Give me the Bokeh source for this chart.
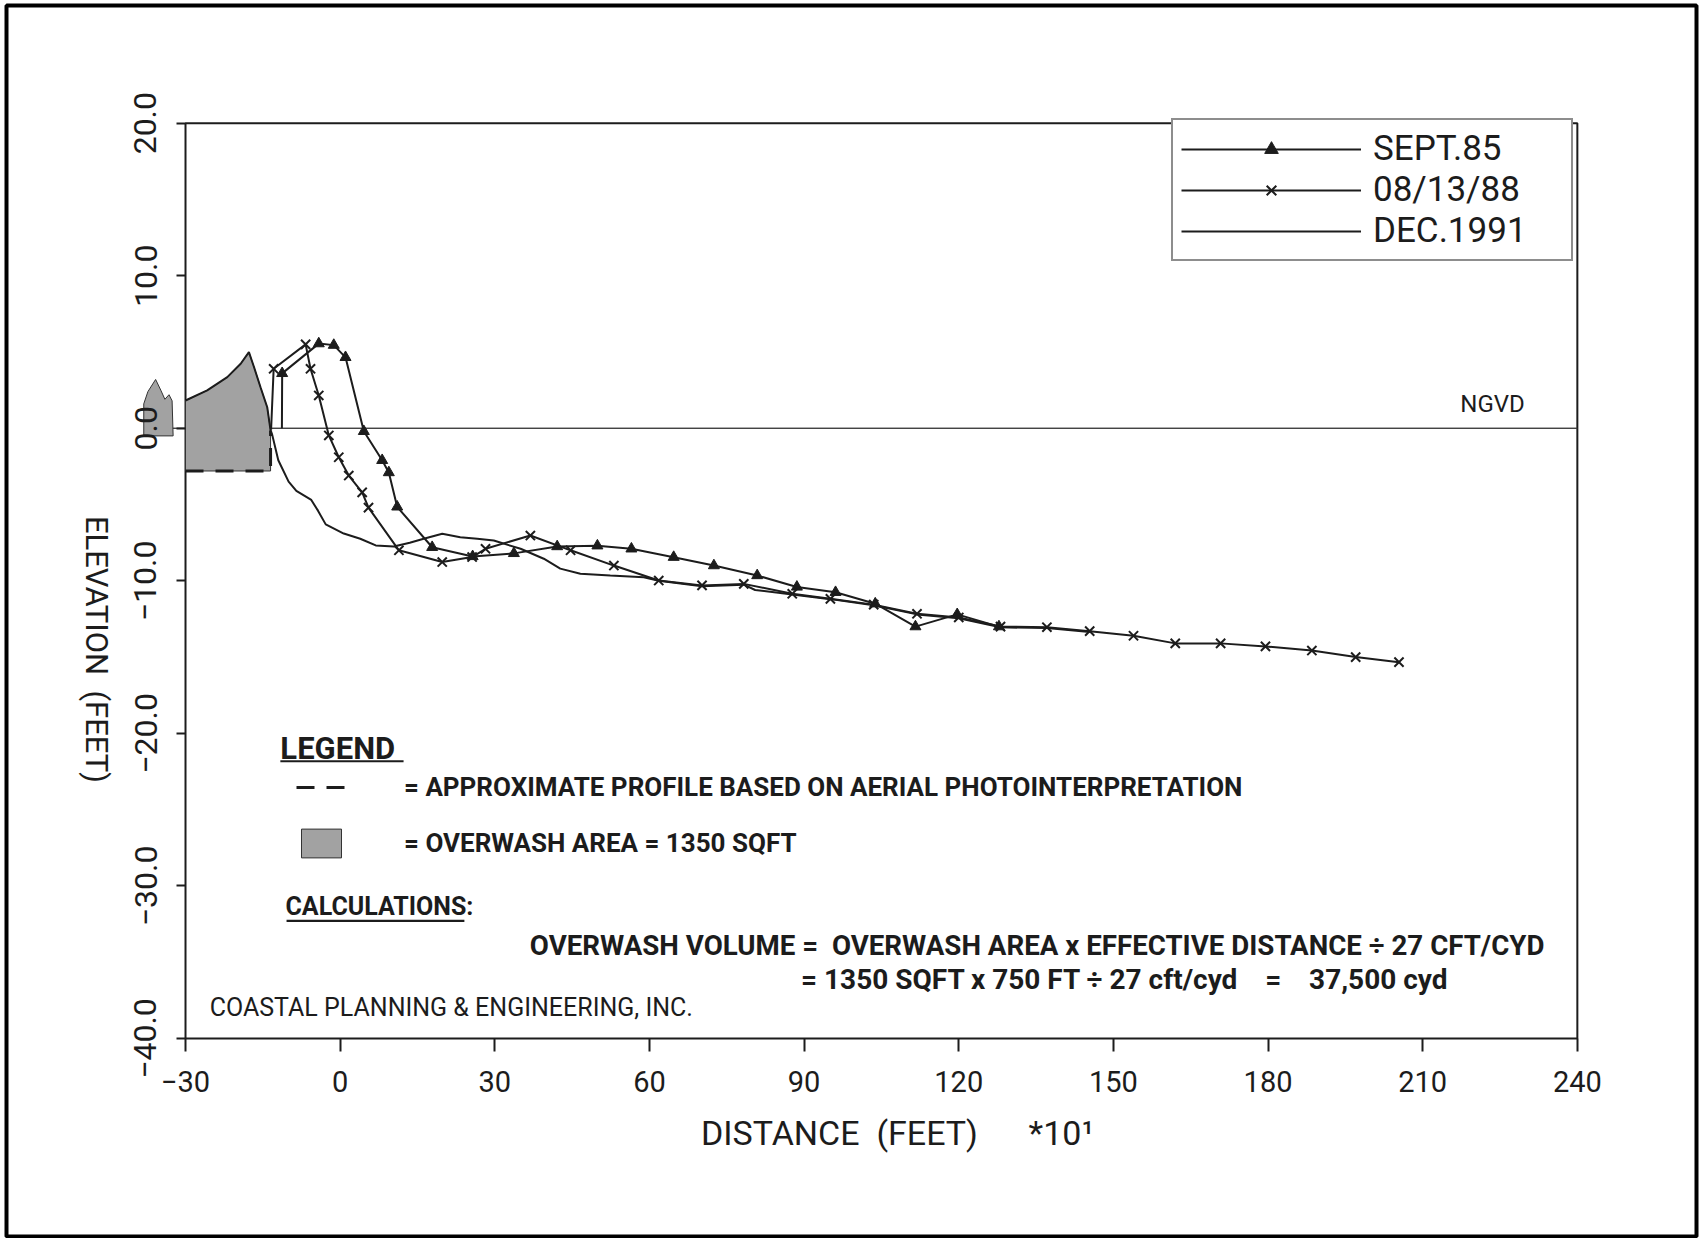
import math
from bokeh.plotting import figure
from bokeh.models import (Label, Legend, LegendItem, FixedTicker,
                          BoxAnnotation, Range1d)
from bokeh.embed import file_html
from bokeh.resources import INLINE

# ---------------- data (distance in feet*10, elevation in feet) ----------------
x_ticks = [-30, 0, 30, 60, 90, 120, 150, 180, 210, 240]
x_tick_labels = ["\u221230", "0", "30", "60", "90", "120", "150", "180", "210", "240"]
y_ticks = [-40, -30, -20, -10, 0, 10, 20]
y_tick_labels = ["\u221240.0", "\u221230.0", "\u221220.0", "\u221210.0", "0.0", "10.0", "20.0"]

sept85_x = [-11.3, -11.25, -4.15, -1.24, 1.04, 4.59, 8.15, 9.44, 11.06, 17.85, 25.7,
            33.7, 42.1, 49.9, 56.5, 64.7, 72.5, 80.9, 88.6, 96.1, 103.8, 111.6, 119.7, 127.8]
sept85_y = [0.0, 3.6, 5.55, 5.45, 4.65, -0.2, -2.1, -2.9, -5.15, -7.8, -8.4,
            -8.2, -7.75, -7.7, -7.9, -8.45, -9.0, -9.65, -10.4, -10.75, -11.5, -13.0, -12.2, -13.0]

aug88_x = [-13.4, -12.9, -6.7, -5.75, -4.15, -2.2, -0.27, 1.67, 4.27, 5.5, 11.4, 19.8, 25.6,
           28.2, 36.9, 44.7, 53.1, 61.8, 70.2, 78.3, 87.7, 95.1, 103.5, 111.9, 120.0, 128.1,
           137.1, 145.4, 153.9, 162.0, 170.8, 179.5, 188.5, 197.0, 205.4]
aug88_y = [-0.1, 3.9, 5.5, 3.9, 2.15, -0.47, -1.9, -3.1, -4.2, -5.2, -8.0, -8.77, -8.44,
           -7.9, -7.03, -8.0, -9.0, -9.98, -10.3, -10.2, -10.85, -11.18, -11.56, -12.16, -12.4, -13.0,
           -13.04, -13.3, -13.6, -14.1, -14.1, -14.3, -14.57, -15.0, -15.33]

dec91_x = [-30.0, -25.8, -21.9, -19.3, -17.7, -16.7, -15.45, -14.15, -13.5, -13.2, -12.0, -10.0,
           -8.5, -5.6, -4.3, -2.8, 0.7, 3.9, 6.9, 10.4, 13.5, 16.2, 19.8, 23.3, 26.6, 29.8, 35.0,
           39.5, 42.7, 46.6, 52.4, 58.9, 61.8, 70.2, 78.3, 80.5, 87.7, 95.1, 103.5, 111.9, 120.0,
           128.1, 137.1, 145.4]
dec91_y = [1.82, 2.48, 3.35, 4.23, 4.99, 4.0, 2.69, 1.38, -0.14, -0.4, -2.1, -3.5,
           -4.1, -4.7, -5.4, -6.3, -6.9, -7.24, -7.68, -7.75, -7.5, -7.24, -6.92, -7.14, -7.24, -7.36, -7.9,
           -8.55, -9.2, -9.54, -9.65, -9.76, -10.0, -10.35, -10.25, -10.6, -10.9, -11.2, -11.6, -12.2, -12.45,
           -13.05, -13.1, -13.35]

# overwash (shaded) area and approximate pre-storm profile
overwash_x = [-30.0, -30.0, -25.8, -21.9, -19.3, -17.7, -16.7, -15.45, -14.15, -13.5, -13.5]
overwash_y = [-2.8, 1.82, 2.48, 3.35, 4.23, 4.99, 4.0, 2.69, 1.38, -0.14, -2.8]
approx_x = [-30.0, -13.5, -13.5]
approx_y = [-2.8, -2.8, -0.14]
blob_x = [-38.1, -38.1, -37.3, -35.8, -34.8, -34.0, -33.2, -32.6, -32.4]
blob_y = [-0.5, 1.6, 2.4, 3.2, 2.5, 1.9, 2.2, 1.8, -0.5]

series_labels = ["SEPT.85", "08/13/88", "DEC.1991"]
ngvd_level = 0.0

# ---------------- figure ----------------
INK = "#1c1c1c"
PLOT_FONT = "Roboto"
W, H = 1700, 1238

p = figure(width=W, height=H,
           x_range=Range1d(-65.89, 263.89), y_range=Range1d(-53.11, 28.04),
           output_backend="svg", toolbar_location=None,
           min_border_left=0, min_border_right=0, min_border_top=0, min_border_bottom=0)
p.title.visible = False
p.xgrid.visible = False
p.ygrid.visible = False
p.outline_line_color = None
p.background_fill_color = "white"
p.border_fill_color = "white"

# axes drawn at the data frame of the drawing
p.xaxis.fixed_location = y_ticks[0]
p.yaxis.fixed_location = x_ticks[0]
p.xaxis.ticker = FixedTicker(ticks=x_ticks)
p.xaxis.major_label_overrides = dict(zip(x_ticks, x_tick_labels))
p.yaxis.ticker = FixedTicker(ticks=y_ticks)
p.yaxis.major_label_overrides = dict(zip(y_ticks, y_tick_labels))
p.yaxis.major_label_orientation = "vertical"
for ax in (p.xaxis, p.yaxis):
    ax.axis_line_color = None
    ax.major_tick_line_color = INK
    ax.major_tick_line_width = 2
    ax.major_tick_in = 0
    ax.minor_tick_line_color = None
    ax.major_label_text_font = PLOT_FONT
    ax.major_label_text_color = INK
p.xaxis.major_label_text_font_size = "29px"
p.yaxis.major_label_text_font_size = "32px"
p.xaxis.major_tick_out = 13
p.yaxis.major_tick_out = 9
p.xaxis.major_label_standoff = 20
p.yaxis.major_label_standoff = 20

# plot frame box and NGVD datum
p.add_layout(BoxAnnotation(left=x_ticks[0], right=x_ticks[-1], bottom=y_ticks[0], top=y_ticks[-1],
                           fill_alpha=0, line_color=INK, line_alpha=1, line_width=2,
                           level="underlay"))
p.add_layout(BoxAnnotation(left=-34.3, right=x_ticks[-1], bottom=ngvd_level, top=ngvd_level,
                           fill_alpha=0, line_color="#3a3a3a", line_alpha=1, line_width=1,
                           level="underlay"))

# shaded overwash areas
r_shade = p.patch(overwash_x, overwash_y, fill_color="#a2a2a2", line_color="#333333", line_width=1)
p.patch(blob_x, blob_y, fill_color="#a2a2a2", line_color="#333333", line_width=1)
r_approx = p.line(approx_x, approx_y, line_color=INK, line_width=3, line_dash="18 12")

# profiles
r91 = p.line(dec91_x, dec91_y, line_color=INK, line_width=2)
r85l = p.line(sept85_x, sept85_y, line_color=INK, line_width=2)
r85m = p.scatter(sept85_x[1:], sept85_y[1:], marker="triangle", size=11,
                 fill_color=INK, line_color=INK)
r88l = p.line(aug88_x, aug88_y, line_color=INK, line_width=2)
r88m = p.scatter(aug88_x[1:], aug88_y[1:], marker="x", size=13, line_color=INK, line_width=2)

# series legend (top right of the drawing frame)
leg = Legend(items=[LegendItem(label=series_labels[0], renderers=[r85l, r85m]),
                    LegendItem(label=series_labels[1], renderers=[r88l, r88m]),
                    LegendItem(label=series_labels[2], renderers=[r91])],
             location=(1171, 977), margin=0, padding=8, spacing=0,
             glyph_width=180, glyph_height=34, label_height=34, label_width=190,
             label_standoff=12,
             label_text_font=PLOT_FONT, label_text_font_size="35px", label_text_color=INK,
             border_line_color=INK, border_line_width=2,
             background_fill_color="white", background_fill_alpha=1.0)
p.add_layout(leg)

# drawing legend (lower left)
leg2 = Legend(items=[LegendItem(label="= APPROXIMATE PROFILE BASED ON AERIAL PHOTOINTERPRETATION",
                                renderers=[r_approx]),
                     LegendItem(label="= OVERWASH AREA = 1350 SQFT", renderers=[r_shade])],
              location=(296, 377), margin=0, padding=0, spacing=20,
              glyph_width=50, glyph_height=36, label_height=36, label_standoff=58,
              label_text_font=PLOT_FONT, label_text_font_style="bold",
              label_text_font_size="26px", label_text_color=INK,
              border_line_color=None, background_fill_alpha=0)
p.add_layout(leg2)

def txt(x, y, s, size, bold=False, align="left", angle=0.0, font=PLOT_FONT):
    p.add_layout(Label(x=x, y=y, text=s, text_font=font, text_font_size=size,
                       text_font_style="bold" if bold else "normal", text_color=INK,
                       text_align=align, text_baseline="middle", angle=angle))

NB = "\u00a0"
txt(-11.6, -21.0, "LEGEND", "31px", bold=True)
p.add_layout(BoxAnnotation(left=-11.6, right=12.3, bottom=-21.9, top=-21.76,
                           fill_color=INK, fill_alpha=1, line_color=None))
txt(-10.6, -31.35, "CALCULATIONS:", "25px", bold=True)
p.add_layout(BoxAnnotation(left=-10.4, right=24.1, bottom=-32.36, top=-32.22,
                           fill_color=INK, fill_alpha=1, line_color=None))
txt(36.8, -33.9, "OVERWASH VOLUME =" + NB + NB + "OVERWASH AREA x EFFECTIVE DISTANCE \u00f7 27 CFT/CYD",
    "27.7px", bold=True)
txt(89.4, -36.1, "= 1350 SQFT x 750 FT \u00f7 27 cft/cyd" + NB * 4 + "=" + NB * 4 + "37,500 cyd",
    "28px", bold=True)
txt(-25.3, -38.0, "COASTAL PLANNING & ENGINEERING, INC.", "25px")
txt(217.3, 1.6, "NGVD", "24px")
txt(-47.3, -14.5, "ELEVATION" + NB + NB + "(FEET)", "31px", align="center", angle=-math.pi / 2)
txt(108.1, -46.2, "DISTANCE" + NB + NB + "(FEET)" + NB * 6 + "*10\u00b9", "34px", align="center")

# scanned page border
p.add_layout(BoxAnnotation(left=6, right=1696, top=5, bottom=1236,
                           left_units="canvas", right_units="canvas",
                           top_units="canvas", bottom_units="canvas",
                           fill_alpha=0, line_color="black", line_alpha=1, line_width=4))

open("out.html", "w").write(file_html(p, INLINE))
